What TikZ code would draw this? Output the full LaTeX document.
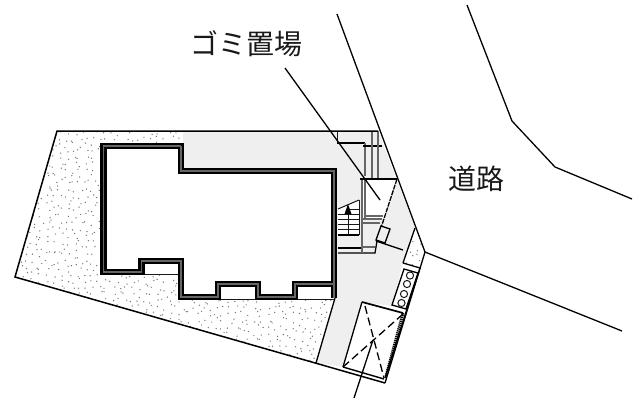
\documentclass[tikz,border=0pt]{standalone}
\usepackage{fontspec}
\newfontfamily\cjk{Noto Sans CJK JP}
\definecolor{pave}{HTML}{EFEFEF}
\definecolor{wallcore}{HTML}{666666}
\tikzset{
 thinline/.style={line width=1.3pt,black},
 hairline/.style={line width=1pt,black!90},
 greyline/.style={line width=1.4pt,black!60},
 wallout/.style={line width=6.5pt,black,miter limit=10},
 wallin/.style={line width=1.6pt,wallcore,miter limit=10},
 label/.style={font=\cjk\fontsize{28}{28}\selectfont,text=black!90,inner sep=0pt},
 cardash/.style={line width=1.3pt,dash pattern=on 8pt off 4pt},
}
\begin{document}
\begin{tikzpicture}[x=1pt,y=-1pt,line join=miter]
\useasboundingbox[fill=white] (0,0) rectangle (640,400);
% stipple
\begin{scope}
\clip (57,131)--(184,131)--(184,300)--(335,300)--(316,363)--(15,277)--cycle;
\pgfmathsetseed{11}
\foreach \gx in {12,18.5,...,340}{
 \foreach \gy in {129,135.5,...,368}{
  \pgfmathsetmacro\px{\gx+6*rnd}
  \pgfmathsetmacro\py{\gy+6*rnd}
  \fill[black!55] (\px,\py) circle[radius=.7];
 }
}
\end{scope}
% paved areas
\fill[pave] (183,131)--(378,131)--(415,228)--(403,263)--(392,306)--(362,302)--(344,367)--(316,363)--(335,298)--(335,171)--(183,171)--cycle;
% dotted patch
\fill[white] (415,228)--(425,252)--(420,268)--(403,263)--cycle;
\begin{scope}
\clip (415,228)--(425,252)--(420,268)--(403,263)--cycle;
\pgfmathsetseed{5}
\foreach \gx in {402,408.5,...,426}{
 \foreach \gy in {227,233.5,...,269}{
  \pgfmathsetmacro\px{\gx+6*rnd}
  \pgfmathsetmacro\py{\gy+6*rnd}
  \fill[black!55] (\px,\py) circle[radius=.7];
 }
}
\end{scope}
% garbage area, white
\fill[white] (362,179)--(397,179)--(384,218)--(362,218)--cycle;
\fill[white] (338,209)--(359,200)--(359,235)--(338,235)--cycle;
% stairs
\draw[hairline] (338,209)--(359,200);
\draw[hairline] (359,200)--(359,235);
\foreach \yy/\xa in {209/346,214/338,219/338,224/338,229/338,235/338}{
 \draw[hairline] (\xa,\yy)--(359,\yy);
}
\draw[hairline] (348,207)--(348,235);
\fill[black] (344.5,214)--(348,204)--(351.5,214)--cycle;
\draw[thinline] (338,235)--(359,235);
% below stairs
\draw[thinline] (338,248)--(362,248);
\draw[thinline] (338,253)--(375,253)--(377,241);
\draw[greyline] (362,223)--(380,223);
\draw[greyline] (362,247)--(375,247);
\draw[greyline] (362,178)--(362,253);
\draw[greyline] (365,178)--(365,218);
\draw[greyline] (362,219)--(382,219);
\draw[greyline] (365,216)--(383,216);
% pipes at top
\draw[hairline] (337,131)--(337,143);
\draw[thinline] (337,143)--(365,143);
\draw[greyline] (365,143)--(365,176);
\draw[line width=2pt] (363,145.5)--(382,145.5);
\draw[greyline] (372,131)--(372,178);
\draw[greyline] (378,131)--(378,178);
\draw[thinline] (360,179)--(397,179);
\draw[thinline,dash pattern=on 5pt off 1pt] (397,179)--(377,240);
% small square
\draw[thinline,fill=pave] (381,226)--(390,229)--(385,243)--(376,240)--cycle;
\draw[thinline] (376,241)--(403,250);
% dotted patch edges
\draw[thinline] (415,228)--(403,263);
\draw[thinline] (403,263)--(420,268);
% meter box
\draw[thinline,fill=white] (404,269)--(418,273)--(406,309)--(392,305)--cycle;
\foreach \cx/\cy in {410/275.5,407/284,404/294,401.5/303}{
 \draw[hairline,fill=white] (\cx,\cy) circle[radius=3.6];
}
% parking
\fill[white] (362,302)--(403,313)--(384,379)--(343,367)--cycle;
\draw[line width=1.7pt] (362,302)--(403,313);
\draw[thinline] (362,302)--(343,367);
\draw[cardash] (365,306)--(384,378);
\draw[cardash] (403,314)--(343,367);
\draw[line width=1.4pt] (343,367)--(384,379);
\draw[line width=2.8pt,dash pattern=on 1.2pt off .8pt] (403,313)--(386,376);
% lot boundary
\draw[line width=1.5pt] (378,131)--(57,131)--(15,277)--(385,383);
\draw[thinline] (335,298)--(316,363);
\draw[thinline] (425,252)--(385,383);
\draw[thinline] (420,268)--(385,378);
\draw[thinline] (337,14)--(425,252);
% house
\path[fill=white] (103.5,146)--(181,146)--(181,171)--(334,171)--(334,298)--(295,298)--(295,284)--(258,284)--(258,298)--(218,298)--(218,284)--(181,284)--(181,274)--(103.5,274)--cycle;
\path[fill=white] (181,262)--(181,274)--(141,274)--(141,262)--cycle;
\path[fill=white] (218,284)--(258,284)--(258,299)--(218,299)--cycle;
\path[fill=white] (295,284)--(334,284)--(334,299)--(295,299)--cycle;
\draw[hairline] (141,274)--(181,274) (218,299.5)--(258,299.5) (295,299.5)--(334,299.5);
\def\wallpath{(181,146)--(103.5,146)--(103.5,272)--(141.5,272)--(141.5,261)--(181,261)--(181,297)--(218,297)--(218,284)--(258,284)--(258,297)--(295,297)--(295,284)--(334,284)}
\draw[wallout] (334,298)--(334,171)--(181,171)--(181,143);
\draw[wallout] \wallpath;
\draw[wallin] (334,298)--(334,171)--(181,171)--(181,146);
\draw[wallin] \wallpath;
% roads
\draw[thinline] (425,252)--(622,331);
\draw[thinline] (467,5)--(512,121)--(555,167)--(632,199);
% labels and leaders
\node[label] (gomi) at (246,44) {\cjk ゴミ置場};
\node[label] (road) at (476,179) {\cjk 道路};
\coordinate (gomiend) at (380,200);
\coordinate (gomistart) at (285,68);
\draw[thinline] (gomistart)--(gomiend);
\coordinate (carstart) at (354,398);
\coordinate (carend) at (373,340);
\draw[thinline] (carstart)--(carend);
\end{tikzpicture}
\end{document}
